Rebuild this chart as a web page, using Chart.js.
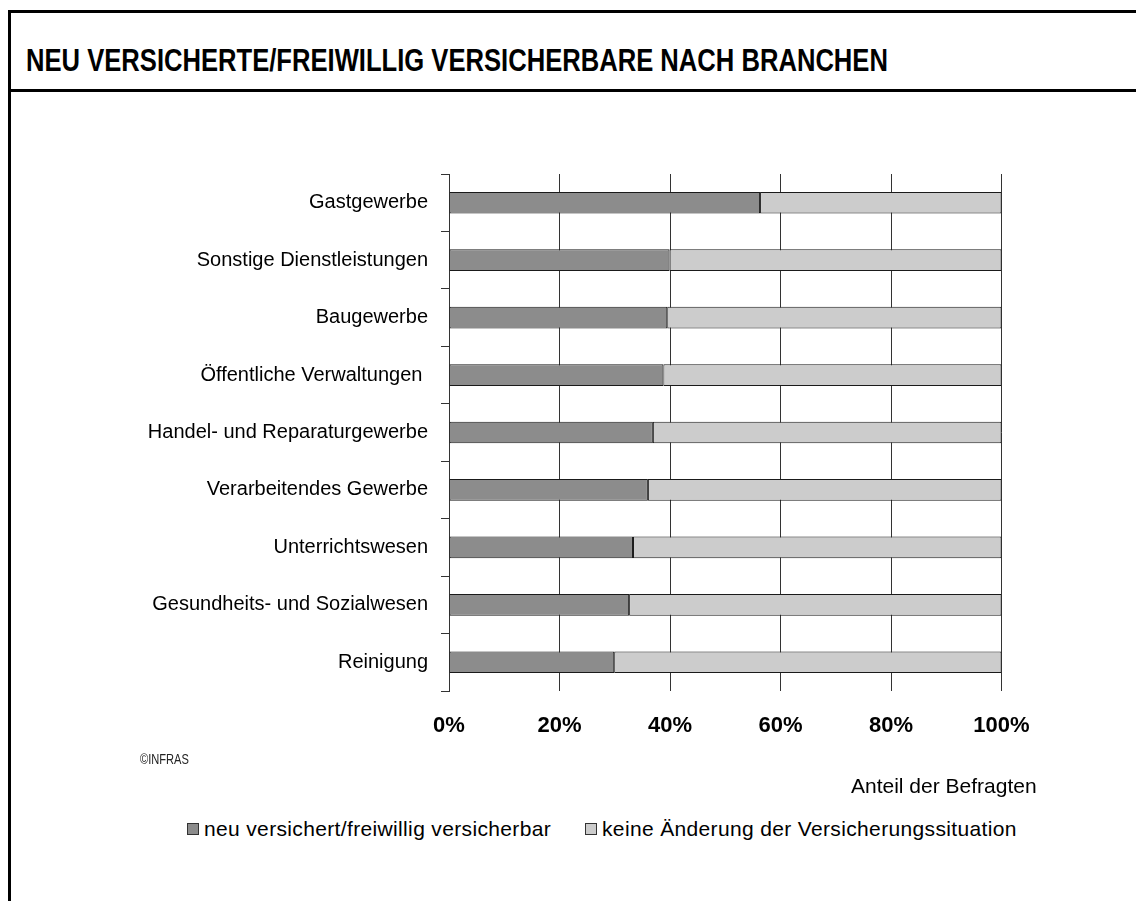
<!DOCTYPE html>
<html>
<head>
<meta charset="utf-8">
<script src="https://cdn.jsdelivr.net/npm/chart.js@4.4.1/dist/chart.umd.min.js"></script>
<style>
  body { margin: 0; background: #ffffff; font-family: 'Liberation Sans', Arial, sans-serif; }
  #page { position: relative; width: 1136px; height: 901px; overflow: hidden; background: #fff; }
  .rule { position: absolute; background: #000; }
  #title { position: absolute; left: 26px; top: 44px; font-size: 32px; line-height: 32px; font-weight: bold;
           white-space: nowrap; transform: scaleX(0.8); transform-origin: left top; color: #000; }
  #chart { position: absolute; left: 0; top: 100px; }
  #copy { position: absolute; left: 140px; top: 751px; font-size: 15px; line-height: 15px; white-space: nowrap;
          transform: scaleX(0.74); transform-origin: left top; color: #222; }
  #axisTitle { position: absolute; left: 851px; top: 775px; font-size: 21px; line-height: 21px; white-space: nowrap; color: #000; }
  #legend { position: absolute; top: 818px; left: 0; height: 22px; }
  .item { position: absolute; top: 0; height: 22px; display: flex; align-items: center; white-space: nowrap;
          font-size: 21px; letter-spacing: 0.35px; color: #000; }
  .box { width: 10px; height: 10px; border: 1px solid #333; margin-right: 5px; }
</style>
</head>
<body>
<div id="page">
  <div class="rule" style="left:8px; top:10px; width:1128px; height:3px;"></div>
  <div class="rule" style="left:8px; top:10px; width:3px; height:891px;"></div>
  <div class="rule" style="left:8px; top:89px; width:1128px; height:3px;"></div>
  <div id="title">NEU VERSICHERTE/FREIWILLIG VERSICHERBARE NACH BRANCHEN</div>
  <canvas id="chart" width="1136" height="700"></canvas>
  <div id="copy">©INFRAS</div>
  <div id="axisTitle">Anteil der Befragten</div>
  <div id="legend"></div>
</div>
<script>
const categories = [
  'Gastgewerbe',
  'Sonstige Dienstleistungen',
  'Baugewerbe',
  'Öffentliche Verwaltungen ',
  'Handel- und Reparaturgewerbe',
  'Verarbeitendes Gewerbe',
  'Unterrichtswesen',
  'Gesundheits- und Sozialwesen',
  'Reinigung'
];
const neuVersichert = [56.3, 39.9, 39.5, 38.8, 36.9, 36.0, 33.3, 32.6, 29.9];
const keineAenderung = [43.7, 60.1, 60.5, 61.2, 63.1, 64.0, 66.7, 67.4, 70.1];
const seriesNames = ['neu versichert/freiwillig versicherbar', 'keine Änderung der Versicherungssituation'];
const seriesColors = ['#8c8c8c', '#cccccc'];
const xTickLabels = ['0%', '20%', '40%', '60%', '80%', '100%'];

const ctx = document.getElementById('chart').getContext('2d');
const chart = new Chart(ctx, {
  type: 'bar',
  data: {
    labels: categories,
    datasets: [
      { label: seriesNames[0], data: neuVersichert, backgroundColor: seriesColors[0] },
      { label: seriesNames[1], data: keineAenderung, backgroundColor: seriesColors[1] }
    ]
  },
  options: {
    indexAxis: 'y',
    responsive: false,
    animation: false,
    layout: { padding: { left: 0, right: 134.5, top: 74, bottom: 1.6 } },
    datasets: {
      bar: {
        categoryPercentage: 1,
        barPercentage: 0.377,
        borderColor: '#1a1a1a',
        borderWidth: 1,
        borderSkipped: false
      }
    },
    plugins: {
      legend: { display: false },
      tooltip: { enabled: false }
    },
    scales: {
      x: {
        stacked: true,
        min: 0,
        max: 100,
        ticks: {
          stepSize: 20,
          padding: 22,
          color: '#000',
          font: { family: "'Liberation Sans', Arial, sans-serif", size: 22, weight: 'bold' },
          callback: (v) => xTickLabels[v / 20]
        },
        grid: { color: '#333', lineWidth: 1, drawTicks: false },
        border: { display: false },
        afterFit: (scale) => { scale.height = 107.4; }
      },
      y: {
        stacked: true,
        ticks: {
          padding: 13,
          color: '#000',
          font: { family: "'Liberation Sans', Arial, sans-serif", size: 20 }
        },
        grid: { drawOnChartArea: false, drawTicks: true, tickLength: 8, color: '#333' },
        border: { display: true, color: '#333', width: 1 },
        afterFit: (scale) => { scale.width = 449; }
      }
    }
  }
});

// legend built from the datasets
const legendEl = document.getElementById('legend');
const legendX = [187, 585];
chart.data.datasets.forEach((ds, i) => {
  const item = document.createElement('div');
  item.className = 'item';
  item.style.left = legendX[i] + 'px';
  item.innerHTML = `<span class="box" style="background:${ds.backgroundColor}"></span><span>${ds.label}</span>`;
  legendEl.appendChild(item);
});
</script>
</body>
</html>
